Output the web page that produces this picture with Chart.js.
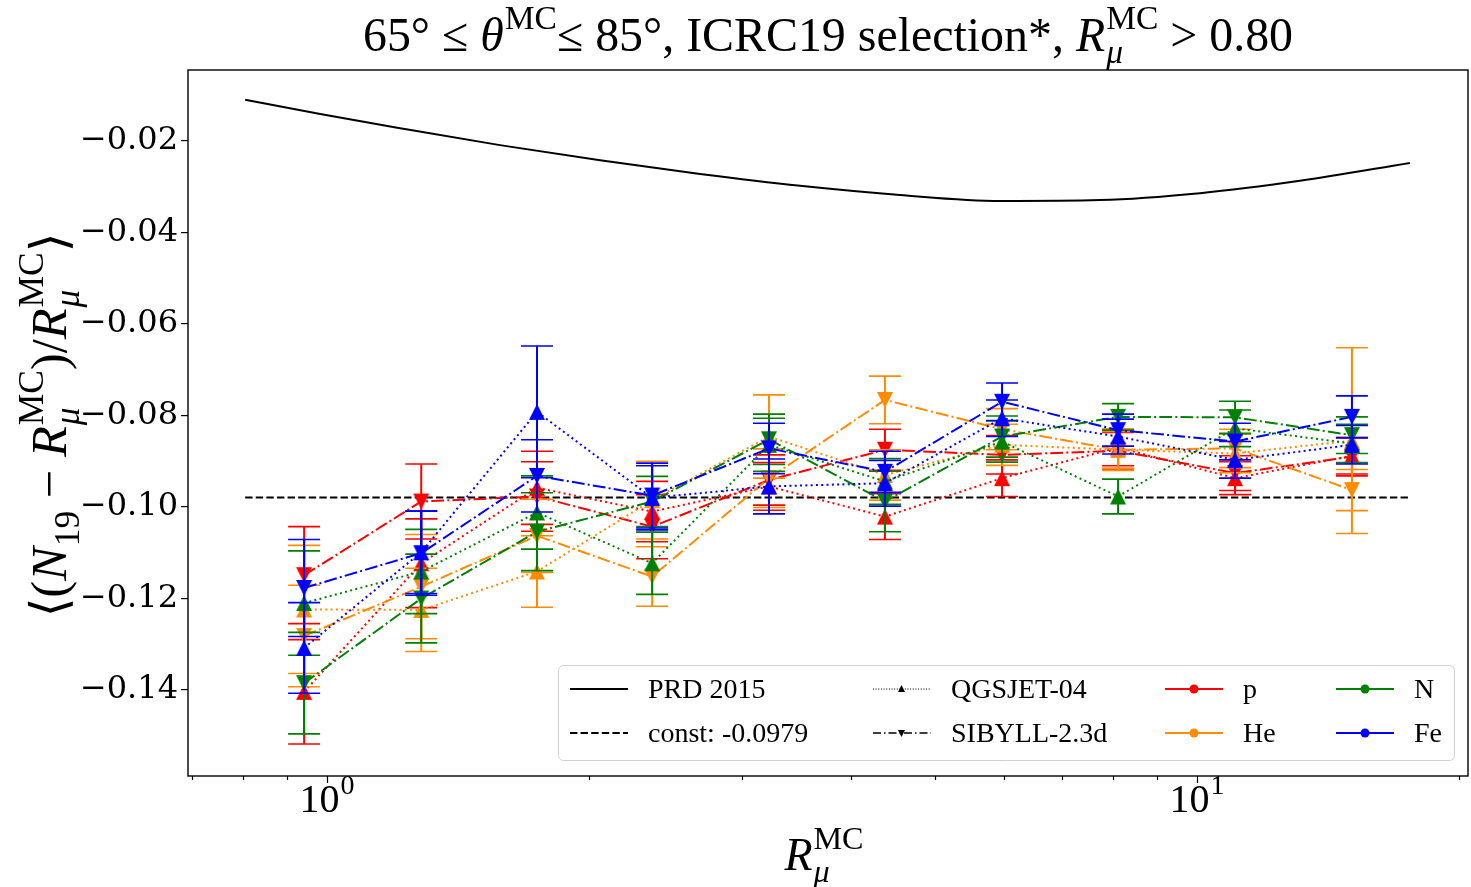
<!DOCTYPE html>
<html>
<head>
<meta charset="utf-8">
<script src="https://cdn.jsdelivr.net/npm/chart.js@4.4.0/dist/chart.umd.min.js"></script>
<style>
  html, body { margin: 0; padding: 0; background: #fff; }
  canvas { display: block; }
</style>
</head>
<body>
<canvas id="chart" width="1471" height="887"></canvas>
<script>
// bin centres in R_mu^MC
const rBins = [0.941, 1.283, 1.743, 2.364, 3.221, 4.378, 5.969, 8.115, 11.06, 15.07];

// PRD 2015 bias curve
const prdR = [0.805, 0.982, 1.213, 1.580, 2.060, 2.684, 3.498, 4.556, 5.937, 7.735, 10.08, 13.13, 17.57];
const prdBias = [-0.0110, -0.0141, -0.0172, -0.0209, -0.0242, -0.0272, -0.0298, -0.0318, -0.0331, -0.0329, -0.0314, -0.0287, -0.0248];

// constant fit
const constBias = -0.0979;
const constRange = [0.805, 17.57];

// mean relative bias and its error, QGSJET-04
const qgsP      = [-0.1404, -0.1123, -0.0958, -0.1010, -0.0955, -0.1021, -0.0937, -0.0870, -0.0937, -0.0888];
const qgsPErr   = [0.0114, 0.0097, 0.0080, 0.0066, 0.0052, 0.0050, 0.0040, 0.0040, 0.0036, 0.0040];
const qgsHe     = [-0.1224, -0.1225, -0.1141, -0.0985, -0.0846, -0.0930, -0.0864, -0.0875, -0.0883, -0.0855];
const qgsHeErr  = [0.0140, 0.0091, 0.0078, 0.0085, 0.0091, 0.0055, 0.0045, 0.0045, 0.0042, 0.0203];
const qgsN      = [-0.1210, -0.1141, -0.1012, -0.1123, -0.0864, -0.0944, -0.0857, -0.0977, -0.0828, -0.0861];
const qgsNErr   = [0.0114, 0.0092, 0.0080, 0.0068, 0.0058, 0.0050, 0.0045, 0.0038, 0.0040, 0.0042];
const qgsFe     = [-0.1308, -0.1099, -0.0792, -0.0980, -0.0955, -0.0948, -0.0806, -0.0846, -0.0897, -0.0864];
const qgsFeErr  = [0.0099, 0.0090, 0.0144, 0.0070, 0.0060, 0.0050, 0.0040, 0.0038, 0.0040, 0.0042];

// mean relative bias and its error, SIBYLL-2.3d
const sibP      = [-0.1149, -0.0988, -0.0977, -0.1043, -0.0941, -0.0875, -0.0886, -0.0877, -0.0926, -0.0890];
const sibPErr   = [0.0106, 0.0082, 0.0076, 0.0070, 0.0055, 0.0045, 0.0042, 0.0040, 0.0038, 0.0042];
const sibHe     = [-0.1282, -0.1174, -0.1063, -0.1152, -0.0937, -0.0766, -0.0830, -0.0875, -0.0872, -0.0963];
const sibHeErr  = [0.0111, 0.0114, 0.0080, 0.0065, 0.0064, 0.0052, 0.0045, 0.0040, 0.0042, 0.0045];
const sibN      = [-0.1385, -0.1200, -0.1054, -0.0988, -0.0852, -0.0988, -0.0846, -0.0803, -0.0804, -0.0843];
const sibNErr   = [0.0111, 0.0097, 0.0085, 0.0055, 0.0055, 0.0066, 0.0045, 0.0029, 0.0035, 0.0040];
const sibFe     = [-0.1177, -0.1101, -0.0932, -0.0975, -0.0872, -0.0923, -0.0770, -0.0832, -0.0857, -0.0803];
const sibFeErr  = [0.0106, 0.0092, 0.0079, 0.0071, 0.0055, 0.0045, 0.0041, 0.0035, 0.0040, 0.0046];

const primaryNames = ['p', 'He', 'N', 'Fe'];
const primaryColors = ['#ff0000', '#ff8c00', '#008000', '#0000ff'];
const modelNames = ['QGSJET-04', 'SIBYLL-2.3d'];

const xMajorTicks = [1, 10];
const xMinorTicks = [0.7, 0.8, 0.9, 2, 3, 4, 5, 6, 7, 8, 9, 20];

const SERIF = '"Liberation Serif", "DejaVu Serif", serif';

function triangle(color, up, size) {
  const c = document.createElement('canvas');
  c.width = size + 2;
  c.height = size + 2;
  const g = c.getContext('2d');
  g.fillStyle = color;
  g.beginPath();
  if (up) {
    g.moveTo(1 + size / 2, 1); g.lineTo(1 + size, 1 + size); g.lineTo(1, 1 + size);
  } else {
    g.moveTo(1, 1); g.lineTo(1 + size, 1); g.lineTo(1 + size / 2, 1 + size);
  }
  g.closePath();
  g.fill();
  return c;
}

const toPoints = (xs, ys) => xs.map((x, i) => ({ x: x, y: ys[i] }));

const seriesValues = [
  [qgsP, qgsPErr, sibP, sibPErr],
  [qgsHe, qgsHeErr, sibHe, sibHeErr],
  [qgsN, qgsNErr, sibN, sibNErr],
  [qgsFe, qgsFeErr, sibFe, sibFeErr]
];

const datasets = [
  {
    label: 'PRD 2015',
    data: toPoints(prdR, prdBias),
    borderColor: '#000',
    borderWidth: 2,
    pointRadius: 0,
    cubicInterpolationMode: 'monotone'
  },
  {
    label: 'const: -0.0979',
    data: toPoints(constRange, [constBias, constBias]),
    borderColor: '#000',
    borderWidth: 2,
    borderDash: [7.4, 3.2],
    pointRadius: 0
  }
];

seriesValues.forEach((vals, k) => {
  const color = primaryColors[k];
  datasets.push({
    label: primaryNames[k] + ' ' + modelNames[0],
    data: toPoints(rBins, vals[0]),
    errors: vals[1],
    borderColor: color,
    borderWidth: 2,
    borderDash: [2, 3.3],
    pointStyle: triangle(color, true, 16),
    pointRadius: 8
  });
  datasets.push({
    label: primaryNames[k] + ' ' + modelNames[1],
    data: toPoints(rBins, vals[2]),
    errors: vals[3],
    borderColor: color,
    borderWidth: 2,
    borderDash: [12.8, 3.2, 2, 3.2],
    pointStyle: triangle(color, false, 16),
    pointRadius: 8
  });
});

// later series sit on top of earlier ones
datasets.forEach((ds, i) => {
  ds.order = datasets.length - i;
  ds.fill = false;
  ds.tension = ds.tension || 0;
  ds.pointHoverRadius = ds.pointRadius;
});

// --- small text layout helper for labels with sub/superscripts ---
function fontStr(size, italic) {
  return (italic ? 'italic ' : '') + size.toFixed(1) + 'px ' + SERIF;
}
function measureRich(ctx, parts, size) {
  let w = 0;
  parts.forEach(p => {
    if (p.t !== undefined) {
      ctx.font = fontStr(size, p.it);
      w += ctx.measureText(p.t).width;
    } else {
      let ws = 0, wp = 0;
      if (p.sub) { ctx.font = fontStr(size * 0.7, p.subIt); ws = ctx.measureText(p.sub).width; }
      if (p.sup) { ctx.font = fontStr(size * 0.7, false); wp = ctx.measureText(p.sup).width; }
      w += Math.max(ws, wp) + 1;
    }
  });
  return w;
}
function drawRich(ctx, parts, x, y, size, align) {
  let cx = x;
  if (align === 'center') cx = x - measureRich(ctx, parts, size) / 2;
  ctx.textAlign = 'left';
  ctx.textBaseline = 'alphabetic';
  parts.forEach(p => {
    if (p.t !== undefined) {
      ctx.font = fontStr(size, p.it);
      ctx.fillText(p.t, cx, y);
      cx += ctx.measureText(p.t).width;
    } else {
      let ws = 0, wp = 0;
      if (p.sub) {
        ctx.font = fontStr(size * 0.7, p.subIt);
        ctx.fillText(p.sub, cx + 1, y + size * 0.26);
        ws = ctx.measureText(p.sub).width;
      }
      if (p.sup) {
        ctx.font = fontStr(size * 0.7, false);
        ctx.fillText(p.sup, cx + 1, y - size * 0.45);
        wp = ctx.measureText(p.sup).width;
      }
      cx += Math.max(ws, wp) + 1;
    }
  });
}

const rMuMC = [{ t: 'R', it: true }, { sup: 'MC', sub: 'μ', subIt: true }];
const titleParts = [
  { t: '65° ≤ ' }, { t: 'θ', it: true }, { sup: 'MC' },
  { t: '≤ 85°, ICRC19 selection*, ' }, ...rMuMC, { t: ' > 0.80' }
];
const yLabelParts = [
  { t: '⟨(' }, { t: 'N', it: true }, { sub: '19' }, { t: ' − ' }, ...rMuMC,
  { t: ')/' }, ...rMuMC, { t: '⟩' }
];

// error bars with caps, drawn just under each series
const errorBars = {
  id: 'errorBars',
  beforeDatasetDraw(chart, args) {
    const ds = chart.data.datasets[args.index];
    if (!ds.errors) return;
    const { ctx } = chart;
    const xs = chart.scales.x, ys = chart.scales.y;
    ctx.save();
    ctx.setLineDash([]);
    ctx.strokeStyle = ds.borderColor;
    ds.data.forEach((pt, i) => {
      const px = xs.getPixelForValue(pt.x);
      const top = ys.getPixelForValue(pt.y + ds.errors[i]);
      const bot = ys.getPixelForValue(pt.y - ds.errors[i]);
      ctx.lineWidth = 2;
      ctx.beginPath();
      ctx.moveTo(px, top);
      ctx.lineTo(px, bot);
      ctx.stroke();
      ctx.lineWidth = 1.6;
      ctx.beginPath();
      ctx.moveTo(px - 16, top); ctx.lineTo(px + 16, top);
      ctx.moveTo(px - 16, bot); ctx.lineTo(px + 16, bot);
      ctx.stroke();
    });
    ctx.restore();
  }
};

// frame, log ticks, titles and legend
const decorations = {
  id: 'decorations',
  afterDraw(chart) {
    const { ctx, chartArea: a } = chart;
    const xs = chart.scales.x;
    ctx.save();
    ctx.fillStyle = '#000';
    ctx.strokeStyle = '#000';

    // x ticks
    ctx.lineWidth = 1.2;
    xMinorTicks.concat(xMajorTicks).forEach(v => {
      const px = Math.round(xs.getPixelForValue(v)) + 0.5;
      const len = xMajorTicks.includes(v) ? 7 : 4;
      ctx.beginPath();
      ctx.moveTo(px, a.bottom);
      ctx.lineTo(px, a.bottom + len);
      ctx.stroke();
    });
    xMajorTicks.forEach(v => {
      const px = xs.getPixelForValue(v);
      const exp = Math.round(Math.log10(v)).toString();
      drawRich(ctx, [{ t: '10' }, { sup: exp }], px, 812, 40, 'center');
    });

    // axes frame
    ctx.lineWidth = 1.4;
    ctx.strokeRect(a.left, a.top, a.right - a.left, a.bottom - a.top);

    // title
    const cx = (a.left + a.right) / 2;
    const tSize = 44 * 930 / measureRich(ctx, titleParts, 44);
    drawRich(ctx, titleParts, cx, 51, tSize, 'center');

    // x axis label
    drawRich(ctx, rMuMC, cx - 4, 870, 46, 'center');

    // y axis label
    const ySize = 44 * 385 / measureRich(ctx, yLabelParts, 44);
    ctx.save();
    ctx.translate(66, (a.top + a.bottom) / 2 + 2);
    ctx.rotate(-Math.PI / 2);
    drawRich(ctx, yLabelParts, 0, 0, ySize, 'center');
    ctx.restore();

    // legend box
    const L = { x: 558, y: 665, w: 896, h: 95 };
    ctx.beginPath();
    ctx.roundRect(L.x + 0.5, L.y + 0.5, L.w, L.h, 5);
    ctx.fillStyle = 'rgba(255,255,255,0.8)';
    ctx.fill();
    ctx.strokeStyle = '#d0d0d0';
    ctx.lineWidth = 1;
    ctx.stroke();

    const rows = [689, 733];
    const handle = (x0, y, dash, lw, color) => {
      ctx.strokeStyle = color;
      ctx.lineWidth = lw;
      ctx.setLineDash(dash);
      ctx.beginPath();
      ctx.moveTo(x0, y);
      ctx.lineTo(x0 + 58, y);
      ctx.stroke();
      ctx.setLineDash([]);
    };
    const label = (text, x, y) => {
      ctx.fillStyle = '#000';
      ctx.font = fontStr(28, false);
      ctx.textAlign = 'left';
      ctx.textBaseline = 'alphabetic';
      ctx.fillText(text, x, y + 9);
    };

    handle(570, rows[0], [], 2, '#000');
    label(datasets[0].label, 648, rows[0]);
    handle(570, rows[1], [7.4, 3.2], 2, '#000');
    label(datasets[1].label, 648, rows[1]);

    handle(873, rows[0], [1, 1.65], 1.2, '#000');
    ctx.drawImage(triangle('#000', true, 7), 897, rows[0] - 5);
    label(modelNames[0], 951, rows[0]);
    handle(873, rows[1], [8, 3, 1.5, 3], 1.5, '#000');
    ctx.drawImage(triangle('#000', false, 7), 897, rows[1] - 4);
    label(modelNames[1], 951, rows[1]);

    primaryNames.forEach((name, k) => {
      const x0 = k < 2 ? 1165 : 1336;
      const y = rows[k % 2];
      handle(x0, y, [], 2, primaryColors[k]);
      ctx.fillStyle = primaryColors[k];
      ctx.beginPath();
      ctx.arc(x0 + 29, y, 4.5, 0, Math.PI * 2);
      ctx.fill();
      label(name, x0 + 78, y);
    });

    ctx.restore();
  }
};

new Chart(document.getElementById('chart'), {
  type: 'line',
  data: { datasets: datasets },
  options: {
    responsive: false,
    animation: false,
    events: [],
    layout: { autoPadding: false, padding: { left: 0, top: 70, right: 3, bottom: 0 } },
    plugins: { legend: { display: false }, tooltip: { enabled: false } },
    scales: {
      x: {
        type: 'logarithmic',
        min: 0.692,
        max: 20.49,
        grid: { display: false },
        border: { display: false },
        ticks: { display: false },
        afterFit: s => { s.height = 111; }
      },
      y: {
        type: 'linear',
        min: -0.1588,
        max: -0.00448,
        grid: { display: true, drawOnChartArea: false, drawTicks: true, tickLength: 7, color: '#000', lineWidth: 1.2 },
        border: { display: false },
        ticks: {
          stepSize: 0.02,
          includeBounds: false,
          padding: 3,
          color: '#000',
          font: { family: '"DejaVu Serif", serif', size: 32 },
          callback: v => (v < 0 ? '−' : '') + Math.abs(v).toFixed(2)
        },
        afterFit: s => { s.width = 188; }
      }
    }
  },
  plugins: [errorBars, decorations]
});
</script>
</body>
</html>
